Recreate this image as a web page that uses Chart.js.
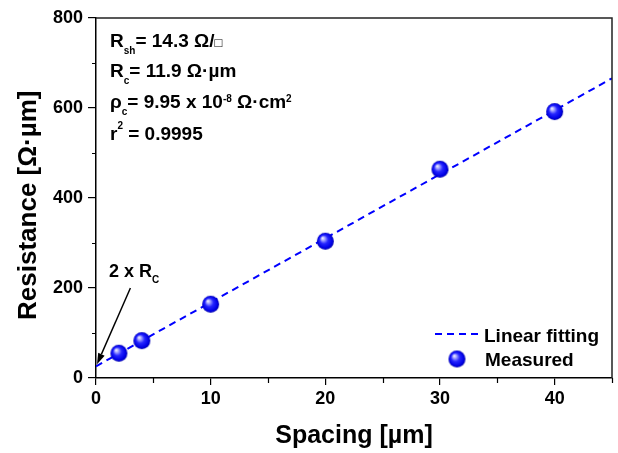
<!DOCTYPE html>
<html><head><meta charset="utf-8">
<script src="https://cdn.jsdelivr.net/npm/chart.js@4"></script>
<style>html,body{margin:0;padding:0;background:#fff}</style>
</head><body>
<canvas id="c" width="618" height="453" style="display:block;width:618px;height:453px"></canvas>
<script>
const spacing = [2, 4, 10, 20, 30, 40];
const resistance = [55, 83, 164, 304, 464, 592];
const fitX = [0, 45];
const fitY = [26, 666];
const xTicks = [0, 10, 20, 30, 40];
const xMinorTicks = [5, 15, 25, 35, 45];
const yTicks = [0, 200, 400, 600, 800];
const yMinorTicks = [100, 300, 500, 700];
const seriesLabels = ['Linear fitting', 'Measured'];
const xTitle = 'Spacing [µm]';
const yTitle = 'Resistance [Ω·µm]';

const FONT = '"Liberation Sans", Arial, sans-serif';
const BLUE = '#0000ff';
const DASH = [7, 5];

function makeBall(r) {
  const s = Math.ceil(r * 2 + 2);
  const cv = document.createElement('canvas');
  cv.width = s; cv.height = s;
  const g = cv.getContext('2d');
  const c = s / 2;
  const grad = g.createRadialGradient(c - r * 0.35, c - r * 0.4, 0, c, c, r);
  grad.addColorStop(0, '#ffffff');
  grad.addColorStop(0.18, '#b8b8ff');
  grad.addColorStop(0.5, '#2626ff');
  grad.addColorStop(0.85, '#0000e6');
  grad.addColorStop(1, '#0000a8');
  g.fillStyle = grad;
  g.beginPath(); g.arc(c, c, r, 0, Math.PI * 2); g.fill();
  return cv;
}
const ball = makeBall(8.5);

function drawRich(ctx, x, y, parts, size) {
  let cx = x;
  for (const [t, m, off] of parts) {
    let fs = size, weight = 'bold', dy = 0;
    if (m === 'sub') { fs = 10; dy = off !== undefined ? off : 6.5; }
    else if (m === 'sup') { fs = 10; dy = off !== undefined ? off : -6.5; }
    else if (m === 'sq') { fs = 13; weight = 'normal'; }
    ctx.font = `${weight} ${fs}px ${FONT}`;
    ctx.fillText(t, cx, y + dy);
    cx += ctx.measureText(t).width;
  }
}

const decor = {
  id: 'decor',
  afterDraw(chart) {
    const ctx = chart.ctx;
    const a = chart.chartArea;
    const xs = chart.scales.x, ys = chart.scales.y;
    ctx.save();
    // frame top/right
    ctx.strokeStyle = '#222';
    ctx.lineWidth = 1.5;
    ctx.beginPath();
    ctx.moveTo(a.left, a.top); ctx.lineTo(a.right, a.top); ctx.lineTo(a.right, a.bottom);
    ctx.stroke();
    // minor ticks
    ctx.strokeStyle = '#000';
    ctx.lineWidth = 1.2;
    ctx.beginPath();
    for (const v of yMinorTicks) {
      const py = Math.round(ys.getPixelForValue(v)) + 0.5;
      ctx.moveTo(a.left - 4, py); ctx.lineTo(a.left, py);
    }
    for (const v of xMinorTicks) {
      const px = Math.round(xs.getPixelForValue(v)) + 0.5;
      ctx.moveTo(px, a.bottom); ctx.lineTo(px, a.bottom + 5);
    }
    ctx.stroke();

    // parameter text block
    ctx.fillStyle = '#000';
    ctx.textBaseline = 'alphabetic';
    ctx.textAlign = 'left';
    const tx = a.left + 14;
    drawRich(ctx, tx, a.top + 29, [['R', 'n'], ['sh', 'sub'], ['= 14.3 Ω/', 'n'], ['□', 'sq']], 19);
    drawRich(ctx, tx, a.top + 59, [['R', 'n'], ['c', 'sub'], ['= 11.9 Ω·µm', 'n']], 19);
    drawRich(ctx, tx, a.top + 90, [['ρ', 'n'], ['c', 'sub'], ['= 9.95 x 10', 'n'], ['-8', 'sup'], [' Ω·cm', 'n'], ['2', 'sup']], 19);
    drawRich(ctx, tx, a.top + 122, [['r', 'n'], ['2', 'sup', -11], [' = 0.9995', 'n']], 19);

    // 2 x Rc annotation with arrow
    const tipX = xs.getPixelForValue(fitX[0]) + 1;
    const tipY = ys.getPixelForValue(fitY[0]) - 2;
    drawRich(ctx, a.left + 13, ys.getPixelForValue(225), [['2 x R', 'n'], ['C', 'sub']], 18);
    const sx = xs.getPixelForValue(3), sy = ys.getPixelForValue(200);
    const ang = Math.atan2(tipY - sy, tipX - sx);
    const hl = 11, hw = 3.5;
    const bx = tipX - hl * Math.cos(ang), by = tipY - hl * Math.sin(ang);
    ctx.strokeStyle = '#000';
    ctx.lineWidth = 1.5;
    ctx.beginPath(); ctx.moveTo(sx, sy); ctx.lineTo(bx, by); ctx.stroke();
    ctx.beginPath();
    ctx.moveTo(tipX, tipY);
    ctx.lineTo(bx + hw * Math.sin(ang), by - hw * Math.cos(ang));
    ctx.lineTo(bx - hw * Math.sin(ang), by + hw * Math.cos(ang));
    ctx.closePath(); ctx.fill();

    // legend
    const ly1 = a.bottom - 44, ly2 = a.bottom - 19;
    ctx.strokeStyle = BLUE; ctx.lineWidth = 2; ctx.setLineDash(DASH);
    ctx.beginPath(); ctx.moveTo(a.right - 177, ly1); ctx.lineTo(a.right - 134, ly1); ctx.stroke();
    ctx.setLineDash([]);
    ctx.drawImage(ball, a.right - 155 - ball.width / 2, ly2 - ball.height / 2);
    ctx.fillStyle = '#000';
    ctx.font = `bold 19px ${FONT}`;
    ctx.fillText(seriesLabels[0], a.right - 128, ly1 + 7.5);
    ctx.fillText(seriesLabels[1], a.right - 127, ly2 + 7);
    ctx.restore();
  }
};

new Chart(document.getElementById('c'), {
  type: 'scatter',
  data: {
    datasets: [
      {
        label: seriesLabels[0],
        data: fitX.map((x, i) => ({ x, y: fitY[i] })),
        showLine: true,
        borderColor: BLUE,
        borderWidth: 2,
        borderDash: DASH,
        pointRadius: 0,
        order: 2
      },
      {
        label: seriesLabels[1],
        data: spacing.map((x, i) => ({ x, y: resistance[i] })),
        showLine: false,
        pointStyle: ball,
        pointRadius: 9,
        order: 1
      }
    ]
  },
  options: {
    responsive: false,
    animation: false,
    layout: { autoPadding: false, padding: { top: 18, right: 6, left: 0, bottom: 0 } },
    plugins: { legend: { display: false }, tooltip: { enabled: false } },
    scales: {
      x: {
        type: 'linear', position: 'bottom', min: 0, max: 45,
        afterBuildTicks: s => { s.ticks = xTicks.map(v => ({ value: v })); },
        afterFit: s => { s.height = 75; s.paddingRight = 0; },
        grid: { drawOnChartArea: false, color: '#000', tickLength: 7, lineWidth: 1.2 },
        border: { color: '#000', width: 1.5 },
        ticks: { color: '#000', font: { family: FONT, weight: 'bold', size: 18 }, padding: 3, maxRotation: 0 },
        title: { display: true, text: xTitle, color: '#000', font: { family: FONT, weight: 'bold', size: 25 }, padding: { top: 0, bottom: 2 } }
      },
      y: {
        type: 'linear', position: 'left', min: 0, max: 800,
        afterBuildTicks: s => { s.ticks = yTicks.map(v => ({ value: v })); },
        afterFit: s => { s.width = 96; },
        grid: { drawOnChartArea: false, color: '#000', tickLength: 8, lineWidth: 1.2 },
        border: { color: '#000', width: 1.5 },
        ticks: { color: '#000', font: { family: FONT, weight: 'bold', size: 18 }, padding: 5 },
        title: { display: true, text: yTitle + '  ', color: '#000', font: { family: FONT, weight: 'bold', size: 26 }, padding: { top: 13, bottom: 0 } }
      }
    }
  },
  plugins: [decor]
});
</script>
</body></html>
